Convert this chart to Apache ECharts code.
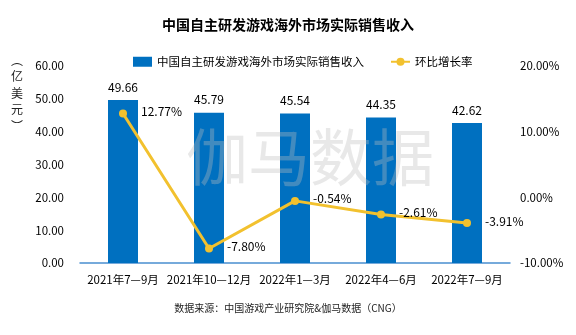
<!DOCTYPE html>
<html>
<head>
<meta charset="utf-8">
<script src="https://cdn.jsdelivr.net/npm/echarts@6/dist/echarts.min.js"></script>
<style>
html,body{margin:0;padding:0;background:#fff;}
#c{width:576px;height:335px;}
</style>
</head>
<body>
<div id="c"></div>
<script>
var categories = ['2021年7—9月', '2021年10—12月', '2022年1—3月', '2022年4—6月', '2022年7—9月'];
var revenue = [49.66, 45.79, 45.54, 44.35, 42.62];
var growth = [12.77, -7.80, -0.54, -2.61, -3.91];
var leftTicks = {min: 0, max: 60, interval: 10};
var rightTicks = {min: -10, max: 20, interval: 10};
var barName = '中国自主研发游戏海外市场实际销售收入';
var lineName = '环比增长率';
var titleText = '中国自主研发游戏海外市场实际销售收入';
var sourceText = '数据来源：中国游戏产业研究院&伽马数据（CNG）';
var unitText = '︵\n亿\n美\n元\n︶';
var watermarkText = '伽马数据';

var FONT = '"Noto Sans CJK SC", "Noto Sans", sans-serif';
var chart = echarts.init(document.getElementById('c'), null, {renderer: 'canvas'});
chart.setOption({
  backgroundColor: '#fff',
  textStyle: {fontFamily: FONT},
  title: {
    text: titleText,
    left: 'center',
    top: 13,
    textStyle: {fontFamily: FONT, fontSize: 14, fontWeight: 'bold', color: '#000'}
  },
  legend: {
    left: 128,
    top: 51,
    itemGap: 26,
    textStyle: {fontFamily: FONT, fontSize: 11.5, color: '#000'},
    data: [
      {name: barName, icon: 'rect', itemStyle: {color: '#0070C0'}},
      {name: lineName}
    ],
    itemWidth: 19,
    itemHeight: 10
  },
  grid: {left: 80, right: 66, top: 66, bottom: 72, containLabel: false},
  xAxis: {
    type: 'category',
    data: categories,
    axisLine: {show: true, lineStyle: {color: '#4A8FD0', width: 1.5}},
    axisTick: {show: false},
    axisLabel: {fontFamily: FONT, fontSize: 11.5, color: '#000', margin: 11, interval: 0}
  },
  yAxis: [
    {
      type: 'value',
      min: leftTicks.min, max: leftTicks.max, interval: leftTicks.interval,
      axisLine: {show: false}, axisTick: {show: false}, splitLine: {show: false},
      axisLabel: {fontFamily: FONT, fontSize: 11.5, color: '#000', margin: 16,
        formatter: function (v) { return v.toFixed(2); }}
    },
    {
      type: 'value',
      min: rightTicks.min, max: rightTicks.max, interval: rightTicks.interval,
      position: 'right',
      axisLine: {show: false}, axisTick: {show: false}, splitLine: {show: false},
      axisLabel: {fontFamily: FONT, fontSize: 11.5, color: '#000', margin: 10,
        formatter: function (v) { return v.toFixed(2) + '%'; }}
    }
  ],
  series: [
    {
      name: barName,
      type: 'bar',
      data: revenue,
      barWidth: 30,
      itemStyle: {color: '#0070C0'},
      label: {show: true, position: 'top', distance: 7, fontFamily: FONT, fontSize: 12, color: '#000',
        formatter: function (p) { return p.value.toFixed(2); }},
      z: 2
    },
    {
      name: lineName,
      type: 'line',
      yAxisIndex: 1,
      data: growth,
      symbol: 'circle',
      symbolSize: 8,
      itemStyle: {color: '#F2C12E'},
      lineStyle: {color: '#F2C12E', width: 3},
      label: {show: true, position: 'right', distance: 14, offset: [0, -2], fontFamily: FONT, fontSize: 12, color: '#000',
        formatter: function (p) { return p.value.toFixed(2) + '%'; }},
      z: 3
    }
  ],
  graphic: [
    {
      type: 'text',
      left: 11,
      top: 52,
      style: {text: unitText, font: '12px ' + FONT, fill: '#222', lineHeight: 16.5, align: 'center'}
    },
    {
      type: 'text',
      left: 'center',
      top: 303,
      style: {text: sourceText, font: '10px ' + FONT, fill: '#222'}
    },
    {
      type: 'text',
      left: 186,
      top: 126,
      z: 10,
      style: {text: watermarkText, font: '62px ' + FONT, fill: 'rgba(190,190,190,0.35)'}
    }
  ]
});
</script>
</body>
</html>
